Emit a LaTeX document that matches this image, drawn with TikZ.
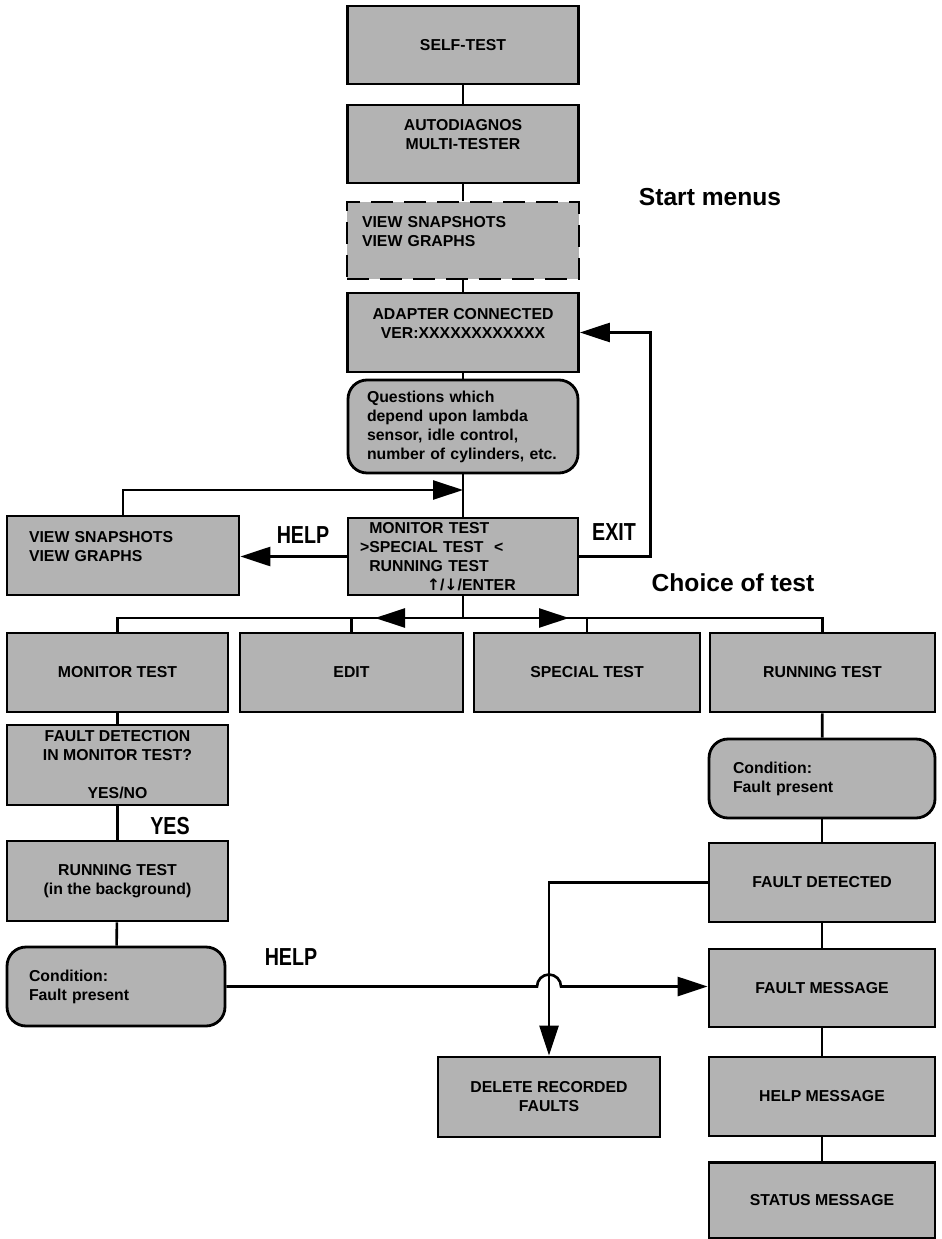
\documentclass[tikz,border=0pt]{standalone}
\usepackage{fontspec}
\setmainfont{Liberation Sans}
\newfontfamily\narrowfont[FakeStretch=0.8]{Liberation Sans}
\newfontfamily\arrowfont{DejaVu Sans}
\usetikzlibrary{arrows.meta, calc}
\definecolor{boxgray}{RGB}{179,179,179}

\begin{document}
\begin{tikzpicture}[
    x=0.02cm, y=-0.02cm,
    box/.style={rectangle, draw, line width=1.6pt, fill=boxgray, align=center, inner sep=0pt,
        minimum width=4.62cm, minimum height=1.57cm, font=\bfseries\fontsize{9}{10.8}\selectfont},
    roundbox/.style={box, rounded corners=0.38cm},
    dashbox/.style={box, dash pattern=on 0.44cm off 0.22cm},
    line/.style={line width=1.5pt},
    arrow/.style={line, -{Triangle[length=0.6cm, width=0.38cm]}},
    keylabel/.style={font=\narrowfont\bfseries\fontsize{14}{16}\selectfont},
    title/.style={font=\bfseries\fontsize{14}{16}\selectfont}
]
\useasboundingbox (0,0) rectangle (941,1239);

% ============ START MENUS ============
\node[box, minimum height=1.56cm] (selftest) at (463,45) {SELF-TEST};
\node[box, minimum height=1.56cm] (autodiag) at (463,144) {AUTODIAGNOS\\MULTI-TESTER\\\mbox{}};
\node[dashbox, align=left, text width=4.04cm, inner xsep=0.3cm, minimum height=1.54cm] (viewtop) at (463,240.5)
    {VIEW SNAPSHOTS\\VIEW GRAPHS\\\mbox{}};
\node[box, minimum height=1.58cm] (adapter) at (463,332.5) {ADAPTER CONNECTED\\VER:XXXXXXXXXXXX\\\mbox{}};
\node[roundbox, align=left, minimum width=4.6cm, text width=3.84cm, inner xsep=0.38cm, minimum height=1.86cm] (questions) at (463,426.5)
    {Questions which\\depend upon lambda\\sensor, idle control,\\number of cylinders, etc.};
\node[box, align=left, minimum width=4.6cm, text width=4.12cm, inner xsep=0.24cm, minimum height=1.54cm] (menu) at (463,556.5)
    {\phantom{>}MONITOR TEST\\>SPECIAL TEST\hspace{6pt}<\\\phantom{>}RUNNING TEST\\\hspace*{38pt}{\arrowfont ↑}/{\arrowfont ↓}/ENTER};
\node[box, align=left, text width=3.76cm, inner xsep=0.44cm, minimum height=1.58cm] (viewleft) at (123,555.5)
    {VIEW SNAPSHOTS\\VIEW GRAPHS\\\mbox{}};

\node[title] (startlbl) at (710,197) {Start menus};
\node[title] (choicelbl) at (733,583) {Choice of test};

\draw[line] (selftest) -- (autodiag);
\draw[line] (autodiag) -- (viewtop);
\draw[line] (viewtop) -- (adapter);
\draw[line] (adapter) -- (questions);
\draw[line] (questions) -- (menu);

% back into the menu line
\coordinate (qjoin) at (463,490);
\draw[arrow] (viewleft.north) |- (qjoin);

% HELP and EXIT
\draw[arrow] (menu.west) -- (menu.west -| viewleft.east);
\node[keylabel] (helpup) at (303,535) {HELP};
\draw[arrow] (menu.east) -- ++(71,0) |- (adapter.east);
\node[keylabel] (exitlbl) at (614,532) {EXIT};

% ============ CHOICE OF TEST ============
\node[box, minimum width=4.42cm, minimum height=1.58cm] (montest) at (117.5,672.5) {MONITOR TEST};
\node[box, minimum width=4.46cm, minimum height=1.58cm] (edit) at (351.5,672.5) {EDIT};
\node[box, minimum width=4.52cm, minimum height=1.58cm] (special) at (587,672.5) {SPECIAL TEST};
\node[box, minimum width=4.5cm, minimum height=1.58cm] (runtest) at (822.5,672.5) {RUNNING TEST};

\coordinate (bus) at (463,618);
\draw[line] (menu) -- (bus);
\draw[line] (montest.north) |- (bus) -| (runtest.north);
\draw[line] (edit.north) -- (edit.north |- bus);
\draw[line] (special.north) -- (special.north |- bus);
\draw[arrow] (bus) -- ++(-88,0);
\draw[arrow] (bus) -- ++(106,0);

% ============ MONITOR TEST BRANCH ============
\node[box, minimum width=4.42cm, minimum height=1.6cm] (faultdet) at (117.5,765)
    {FAULT DETECTION\\IN MONITOR TEST?\\\mbox{}\\YES/NO};
\node[box, minimum width=4.42cm, minimum height=1.6cm] (runbg) at (117.5,881)
    {RUNNING TEST\\(in the background)};
\node[roundbox, align=left, minimum width=4.36cm, text width=3.48cm, inner xsep=0.44cm, minimum height=1.58cm] (condleft) at (116,986.5)
    {Condition:\\Fault present};

\draw[line] (montest) -- (faultdet);
\draw[line] (faultdet) -- (runbg);
\node[keylabel] (yeslbl) at (170,826) {YES};
\draw[line] (runbg) -- (condleft);

% ============ RUNNING TEST BRANCH ============
\node[roundbox, align=left, minimum width=4.52cm, text width=3.56cm, inner xsep=0.48cm, minimum height=1.58cm] (condright) at (822,778.5)
    {Condition:\\Fault present};
\node[box, minimum width=4.52cm, minimum height=1.58cm] (detected) at (822,882.5) {FAULT DETECTED};
\node[box, minimum width=4.52cm, minimum height=1.56cm] (faultmsg) at (822,988) {FAULT MESSAGE};
\node[box, minimum width=4.52cm, minimum height=1.58cm] (helpmsg) at (822,1096.5) {HELP MESSAGE};
\node[box, minimum width=4.52cm, minimum height=1.52cm] (statusmsg) at (822,1200.5) {STATUS MESSAGE};
\node[box, minimum width=4.44cm, minimum height=1.6cm] (delete) at (549,1097) {DELETE RECORDED\\FAULTS};

\draw[line] (runtest) -- (condright);
\draw[line] (condright) -- (detected);
\draw[line] (detected) -- (faultmsg);
\draw[line] (faultmsg) -- (helpmsg);
\draw[line] (helpmsg) -- (statusmsg);

\draw[arrow] (detected.west) -| (delete.north);

% HELP line hops over
\coordinate (hopl) at ($(delete.north |- condleft.east)+(-12,0)$);
\draw[arrow] (condleft.east) -- (hopl) arc[start angle=180, end angle=0, radius=0.24cm]
    -- (condleft.east -| faultmsg.west);
\node[keylabel] (helplow) at (291,957) {HELP};

\end{tikzpicture}
\end{document}
